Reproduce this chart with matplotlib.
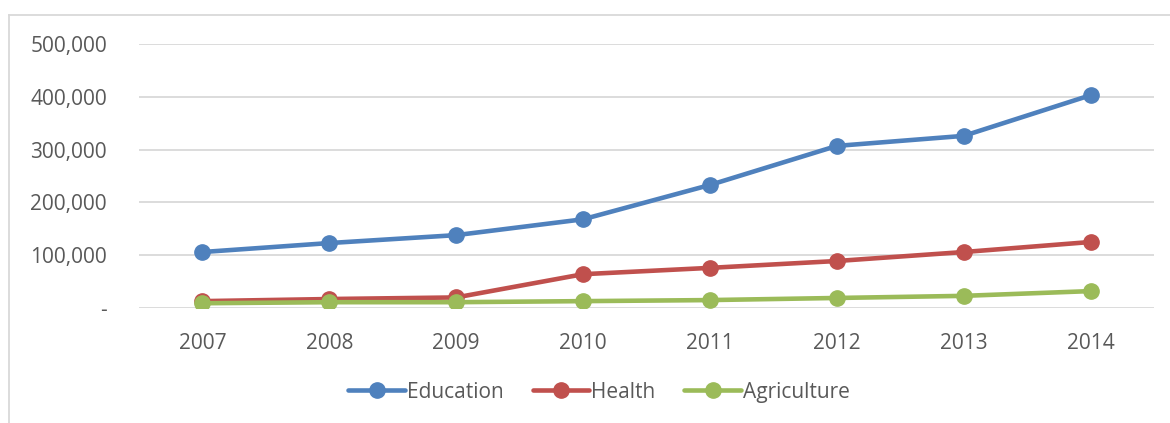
import matplotlib
matplotlib.use('Agg')
import matplotlib.pyplot as plt
from matplotlib.lines import Line2D
from matplotlib.ticker import FuncFormatter

# 데이터
years = ['2007', '2008', '2009', '2010', '2011', '2012', '2013', '2014']
education = [106000, 123000, 138000, 168000, 233000, 307000, 326000, 403000]
health = [13000, 17000, 20000, 64000, 76000, 89000, 106000, 125000]
agriculture = [9000, 11000, 11000, 13000, 15000, 19000, 23000, 32000]

series = [('Education', education, '#4F81BD'),
          ('Health', health, '#C0504D'),
          ('Agriculture', agriculture, '#9BBB59')]

plt.rcParams['font.family'] = ['Open Sans', 'DejaVu Sans']
text_color = '#595959'
grid_color = '#D9D9D9'

fig = plt.figure(figsize=(11.7, 4.23), dpi=100)
ax = fig.add_axes([139/1170, 1 - 308/423, (1154 - 139)/1170, (308 - 44)/423])

x = list(range(len(years)))
for name, vals, color in series:
    ax.plot(x, vals, color=color, lw=3.3, marker='o', markersize=11,
            label=name, solid_capstyle='round')

ax.set_xlim(-0.5, len(years) - 0.5)
ax.set_ylim(0, 500000)
ax.set_yticks(range(0, 500001, 100000))
ax.yaxis.set_major_formatter(FuncFormatter(lambda v, p: '-' if v == 0 else f'{int(v):,}'))
ax.set_xticks(x)
ax.set_xticklabels(years)

ax.grid(axis='y', color=grid_color, lw=1.3)
ax.set_axisbelow(True)
for s in ax.spines.values():
    s.set_visible(False)
ax.tick_params(length=0, labelsize=15, colors=text_color)
ax.tick_params(axis='y', pad=23)
ax.tick_params(axis='x', pad=18)

leg = fig.legend(loc='center', bbox_to_anchor=(0.512, 1 - 392/423), ncol=3, frameon=False,
                 fontsize=15, handlelength=2.7, handletextpad=0.1, columnspacing=1.4)
for t in leg.get_texts():
    t.set_color(text_color)

# 차트 테두리
fig.add_artist(Line2D([9/1170, 1], [1 - 15/423, 1 - 15/423], color=grid_color, lw=1.3))
fig.add_artist(Line2D([9/1170, 9/1170], [0, 1 - 15/423], color=grid_color, lw=1.3))

fig.savefig('out.png', dpi=100)
